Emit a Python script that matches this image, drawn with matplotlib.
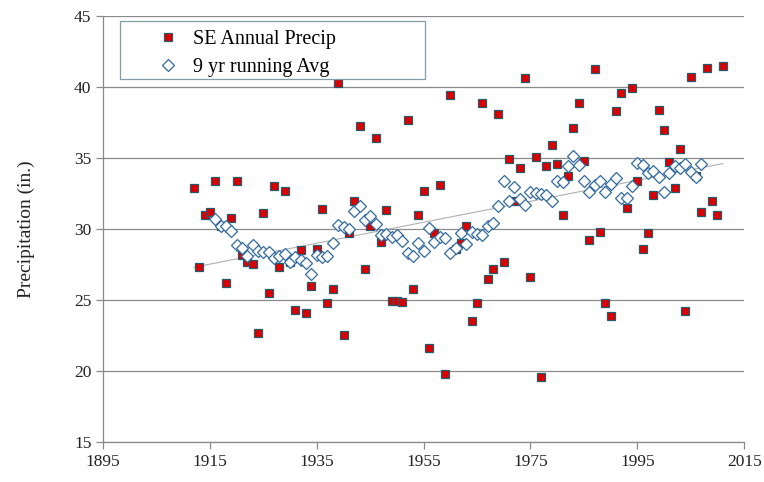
import matplotlib
matplotlib.use("Agg")
import matplotlib.pyplot as plt
from matplotlib.patches import Rectangle

# SE annual precipitation, 1912-2011
years = list(range(1912, 2012))
precip = [32.9, 27.3, 31.0, 31.2, 33.4, 30.2, 26.2, 30.75, 33.4, 28.2,
          27.7, 27.5, 22.65, 31.1, 25.5, 33.0, 27.3, 32.7, 27.7, 24.3,
          28.5, 24.1, 26.0, 28.6, 31.4, 24.8, 25.8, 40.3, 22.5, 29.7,
          32.0, 37.25, 27.2, 30.2, 36.4, 29.1, 31.3, 24.9, 24.9, 24.85,
          37.7, 25.8, 31.0, 32.7, 21.6, 29.7, 33.1, 19.8, 39.4, 28.6,
          29.0, 30.2, 23.5, 24.8, 38.85, 26.5, 27.2, 38.1, 27.7, 34.9,
          32.0, 34.3, 40.6, 26.6, 35.1, 19.55, 34.4, 35.9, 34.6, 31.0,
          33.75, 37.1, 38.9, 34.8, 29.2, 41.25, 29.8, 24.8, 23.9, 38.3,
          39.6, 31.5, 39.9, 33.4, 28.6, 29.7, 32.4, 38.4, 37.0, 34.7,
          32.9, 35.6, 24.2, 40.7, 33.7, 31.2, 41.35, 32.0, 31.0, 41.5]

# 9 yr running average, 1916-2007
avg_years = list(range(1916, 2008))
avg9 = [30.71, 30.18, 30.23, 29.84, 28.89, 28.63, 28.11, 28.87, 28.48, 28.41,
        28.35, 27.97, 28.08, 28.24, 27.68, 28.02, 27.84, 27.57, 26.80, 28.20,
        28.00, 28.13, 29.01, 30.26, 30.11, 29.97, 31.26, 31.63, 30.63, 30.89,
        30.36, 29.57, 29.62, 29.46, 29.55, 29.14, 28.31, 28.13, 29.04, 28.47,
        30.09, 29.08, 29.43, 29.34, 28.32, 28.68, 29.69, 28.96, 29.78, 29.64,
        29.54, 30.19, 30.39, 31.59, 33.35, 31.99, 32.94, 32.09, 31.68, 32.59,
        32.56, 32.45, 32.39, 32.00, 33.37, 33.33, 34.41, 35.17, 34.49, 33.40,
        32.61, 33.12, 33.39, 32.57, 33.14, 33.61, 32.20, 32.19, 33.03, 34.64,
        34.50, 33.96, 34.11, 33.63, 32.61, 33.96, 34.40, 34.27, 34.59, 34.04,
        33.63, 34.58]

# linear trend end points
trend_years = [1912, 2011]
trend_vals = [27.3, 34.6]

plt.rcParams['font.family'] = ['Liberation Serif', 'DejaVu Serif']

fig = plt.figure(figsize=(7.64, 4.82), dpi=100)
ax = fig.add_axes([0.135, 0.083, 0.839, 0.884])

grey = '#8a8a8a'
ax.plot(trend_years, trend_vals, color='#b0b0b0', linewidth=0.8, zorder=2)
ax.plot(years, precip, linestyle='none', marker='s', markersize=6.2,
        markerfacecolor='#d80000', markeredgecolor='#245a6b', markeredgewidth=0.9,
        label='SE Annual Precip', zorder=3)
ax.plot(avg_years, avg9, linestyle='none', marker='D', markersize=5.8,
        markerfacecolor='white', markeredgecolor='#2f6aa0', markeredgewidth=0.9,
        label='9 yr running Avg', zorder=4)

ax.set_xlim(1895, 2015)
ax.set_ylim(15, 45)
ax.set_xticks(range(1895, 2016, 20))
ax.set_yticks(range(15, 46, 5))
ax.yaxis.grid(True, color=grey, linewidth=0.9)
ax.set_axisbelow(True)
for s in ['top', 'right']:
    ax.spines[s].set_visible(False)
for s in ['left', 'bottom']:
    ax.spines[s].set_color(grey)
    ax.spines[s].set_linewidth(0.9)
ax.tick_params(axis='both', direction='out', length=5, width=0.9, color=grey,
               labelsize=12.5, labelcolor='#222222')
ax.set_ylabel('Precipitation (in.)', fontsize=14, color='#222222', labelpad=28)

# legend box
ax.add_patch(Rectangle((0.0265, 0.852), 0.476, 0.136, transform=ax.transAxes,
                       facecolor='white', edgecolor='#7f9ea6', linewidth=0.9,
                       zorder=5))
leg = ax.legend(loc='upper left', bbox_to_anchor=(0.06, 1.004), frameon=False,
                fontsize=14.5, handlelength=1.0, handletextpad=0.75,
                labelspacing=0.4, borderpad=0.3)
leg.set_zorder(6)

fig.savefig('out.png', dpi=100)
